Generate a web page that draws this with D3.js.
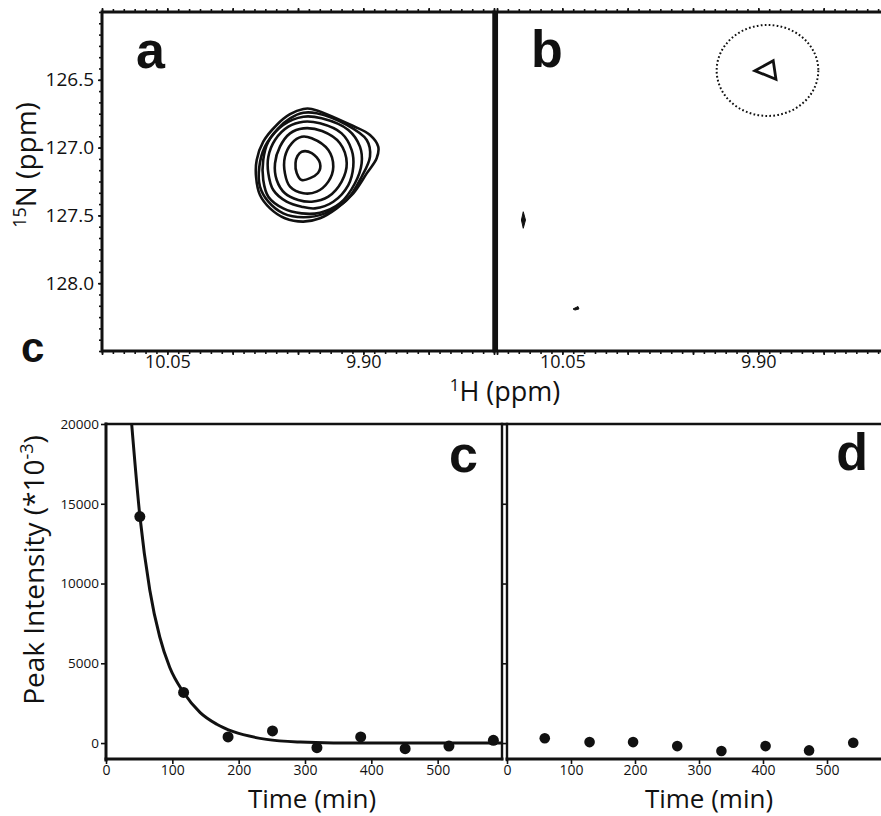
<!DOCTYPE html>
<html>
<head>
<meta charset="utf-8">
<script src="https://cdn.jsdelivr.net/npm/d3@7"></script>
<style>
  html, body { margin: 0; padding: 0; background: #fff; }
  svg { display: block; font-family: "Open Sans", "Noto Sans", sans-serif; }
</style>
</head>
<body>
<svg id="chart" width="881" height="816"></svg>
<script>
// ---------- HSQC spectra (1H ppm, 15N ppm) ----------
// Contour rings of the amide cross-peak in spectrum a, outermost first
const ring1 = [[9.9459,126.715],[9.9395,126.715],[9.9077,126.841],[9.8949,126.907],[9.8886,126.993],[9.8898,127.079],[9.8974,127.190],[9.9077,127.337],[9.9204,127.448],[9.9332,127.521],[9.9459,127.546],[9.9600,127.521],[9.9714,127.448],[9.9791,127.350],[9.9821,127.215],[9.9816,127.091],[9.9766,126.956],[9.9663,126.833],[9.9561,126.754]];
const ring2 = [[9.9459,126.743],[9.9357,126.747],[9.9127,126.833],[9.8974,126.944],[9.8949,127.067],[9.9013,127.215],[9.9127,127.386],[9.9293,127.485],[9.9459,127.514],[9.9613,127.485],[9.9727,127.399],[9.9791,127.288],[9.9796,127.141],[9.9753,126.993],[9.9651,126.858],[9.9561,126.784]];
const ring3 = [[9.9459,126.772],[9.9319,126.784],[9.9115,126.870],[9.9026,126.993],[9.9013,127.116],[9.9064,127.263],[9.9179,127.411],[9.9332,127.480],[9.9472,127.485],[9.9613,127.448],[9.9727,127.362],[9.9766,127.239],[9.9766,127.091],[9.9727,126.956],[9.9613,126.833]];
const ring4 = [[9.9459,126.809],[9.9332,126.821],[9.9166,126.895],[9.9089,127.018],[9.9077,127.141],[9.9115,127.276],[9.9230,127.399],[9.9370,127.448],[9.9472,127.436],[9.9587,127.399],[9.9689,127.313],[9.9727,127.190],[9.9727,127.067],[9.9676,126.944],[9.9574,126.846]];
const ring5 = [[9.9459,126.858],[9.9316,126.878],[9.9179,126.968],[9.9127,127.116],[9.9166,127.251],[9.9268,127.362],[9.9395,127.399],[9.9498,127.386],[9.9600,127.337],[9.9663,127.239],[9.9676,127.116],[9.9638,126.993],[9.9561,126.895]];
const ring6 = [[9.9472,126.920],[9.9395,126.931],[9.9268,127.018],[9.9230,127.141],[9.9268,127.251],[9.9357,127.325],[9.9459,127.337],[9.9561,127.288],[9.9600,127.190],[9.9600,127.067],[9.9548,126.968]];
const ring7 = [[9.9472,127.030],[9.9395,127.040],[9.9332,127.114],[9.9347,127.187],[9.9472,127.239],[9.9510,127.187],[9.9519,127.114],[9.9504,127.062]];
const peakRingsA = [ring1, ring2, ring3, ring4, ring5, ring6, ring7];

// Spectrum b: residual weak contour, two noise specks, highlighted region
const residualRingB = [[9.9026,126.433],[9.8886,126.359],[9.8865,126.496]];
const speck1 = [[10.0799,127.473],[10.0782,127.534],[10.0799,127.595],[10.0813,127.534]];
const speck2 = [[10.0418,128.190],[10.0380,128.172],[10.0373,128.190],[10.0403,128.198]];
const highlightCenter = [9.8930, 126.431];
const highlightRadius = [0.0389, 0.3355];

const hMajor = [10.10, 10.05, 10.00, 9.95, 9.90, 9.85, 9.80];
const hLabels = [10.05, 9.90];
const nLabels = [126.5, 127.0, 127.5, 128.0];

// ---------- Peak intensity decay ----------
const timeC = [51, 117, 184, 251, 318, 384, 451, 517, 584];
const intensityC = [14200, 3170, 380, 760, -290, 380, -355, -190, 170];
const fitTime = [38.7, 51, 66, 81, 96, 117, 142, 167, 192, 242, 293, 343, 420, 597];
const fitIntensity = [20000, 14250, 9600, 6650, 4750, 3170, 1910, 1180, 710, 230, 60, 10, 0, 0];
const timeD = [59, 129, 197, 266, 335, 404, 472, 541];
const intensityD = [300, 60, 60, -190, -500, -190, -460, 20];
const timeTicks = [0, 100, 200, 300, 400, 500];
const intensityTicks = [0, 5000, 10000, 15000, 20000];

const ink = "#111";
const svg = d3.select("#chart");
svg.append("rect").attr("width", 881).attr("height", 816).attr("fill", "#fff");

// ---------- scales ----------
const xA = d3.scaleLinear().domain([10.10, 9.80]).range([102, 494]);
const xB = d3.scaleLinear().domain([10.10, 9.80]).range([497, 889]);
const yN = d3.scaleLinear().domain([126.0, 128.5]).range([12, 351]);
const xC = d3.scaleLinear().domain([0, 597]).range([106, 502]);
const xD = d3.scaleLinear().domain([0, 600]).range([507, 891]);
const yI = d3.scaleLinear().domain([-1000, 20000]).range([759, 424]);

const hMinor = d3.range(0, 37).map(i => +(9.80 + i * 0.05 / 6).toFixed(5));
const nMinor = d3.range(0, 31).map(i => +(126.0 + i * 0.5 / 6).toFixed(5));

function styleAxis(g, size) {
  g.select(".domain").remove();
  g.selectAll(".tick line").attr("stroke", ink).attr("stroke-width", 1.6);
  g.selectAll(".tick text").attr("fill", ink).attr("font-size", size)
    .attr("font-family", "'Open Sans', sans-serif");
}

// ---------- spectra axes (ticks drawn outside the frame) ----------
function spectrumTicks(x, x0, x1) {
  const clip = g => g.selectAll(".tick").filter(d => x(d) < x0 - 1 || x(d) > x1 + 1).remove();
  // top edge
  svg.append("g").attr("transform", "translate(0,12)")
    .call(d3.axisTop(x).tickValues(hMinor).tickSize(3).tickFormat(""))
    .call(g => styleAxis(g, 0)).call(clip);
  svg.append("g").attr("transform", "translate(0,12)")
    .call(d3.axisTop(x).tickValues(hMajor).tickSize(4).tickFormat(""))
    .call(g => styleAxis(g, 0)).call(clip);
  // bottom edge
  svg.append("g").attr("transform", "translate(0,351)")
    .call(d3.axisBottom(x).tickValues(hMinor).tickSize(3).tickFormat(""))
    .call(g => styleAxis(g, 0)).call(clip);
  svg.append("g").attr("transform", "translate(0,351)")
    .call(d3.axisBottom(x).tickValues(hMajor).tickSize(4).tickFormat(""))
    .call(g => styleAxis(g, 0)).call(clip);
  svg.append("g").attr("transform", "translate(0,351)")
    .call(d3.axisBottom(x).tickValues(hLabels).tickSize(0).tickPadding(4).tickFormat(d3.format(".2f")))
    .call(g => styleAxis(g, 18));
}
spectrumTicks(xA, 102, 494);
spectrumTicks(xB, 497, 881);

svg.append("g").attr("transform", "translate(102,0)")
  .call(d3.axisLeft(yN).tickValues(nMinor).tickSize(3).tickFormat(""))
  .call(g => styleAxis(g, 0));
svg.append("g").attr("transform", "translate(102,0)")
  .call(d3.axisLeft(yN).tickValues(nLabels).tickSize(4).tickPadding(4).tickFormat(d3.format(".1f")))
  .call(g => styleAxis(g, 19));

// ---------- spectra frames ----------
svg.append("rect").attr("x", xA(10.10)).attr("y", yN(126.0))
  .attr("width", xA(9.80) - xA(10.10)).attr("height", yN(128.5) - yN(126.0))
  .attr("fill", "none").attr("stroke", ink).attr("stroke-width", 3);
svg.append("line").attr("x1", xB(10.10)).attr("x2", 881).attr("y1", yN(126.0)).attr("y2", yN(126.0))
  .attr("stroke", ink).attr("stroke-width", 3);
svg.append("line").attr("x1", xB(10.10)).attr("x2", 881).attr("y1", yN(128.5)).attr("y2", yN(128.5))
  .attr("stroke", ink).attr("stroke-width", 3);
svg.append("line").attr("x1", 495.3).attr("x2", 495.3).attr("y1", yN(126.0) - 1.5).attr("y2", yN(128.5) + 1.5)
  .attr("stroke", ink).attr("stroke-width", 5.5);

// ---------- contours ----------
const ringLineA = d3.line().x(d => xA(d[0])).y(d => yN(d[1])).curve(d3.curveCatmullRomClosed.alpha(0.5));
svg.append("g").selectAll("path").data(peakRingsA).join("path")
  .attr("d", ringLineA).attr("fill", "none").attr("stroke", ink)
  .attr("stroke-width", 2.6).attr("stroke-linejoin", "round");

const ringLineB = d3.line().x(d => xB(d[0])).y(d => yN(d[1])).curve(d3.curveLinearClosed);
svg.append("path").attr("d", ringLineB(residualRingB)).attr("fill", "none")
  .attr("stroke", ink).attr("stroke-width", 2.8).attr("stroke-linejoin", "miter");
svg.append("g").selectAll("path").data([speck1, speck2]).join("path")
  .attr("d", ringLineB).attr("fill", ink).attr("stroke", ink).attr("stroke-width", 1);

svg.append("ellipse")
  .attr("cx", xB(highlightCenter[0])).attr("cy", yN(highlightCenter[1]))
  .attr("rx", Math.abs(xB(highlightCenter[0] + highlightRadius[0]) - xB(highlightCenter[0])))
  .attr("ry", Math.abs(yN(highlightCenter[1] + highlightRadius[1]) - yN(highlightCenter[1])))
  .attr("fill", "none").attr("stroke", ink).attr("stroke-width", 2)
  .attr("stroke-dasharray", "1.7,2.3");

// ---------- spectra labels ----------
function panelLetter(txt, x, y, size, anchor) {
  svg.append("text").attr("x", x).attr("y", y).attr("text-anchor", anchor || "start")
    .attr("font-family", "'Liberation Sans', Arial, sans-serif").attr("font-weight", "bold")
    .attr("font-size", size).attr("fill", ink).text(txt);
}
panelLetter("a", 136, 68, 52);
panelLetter("b", 531, 67, 52);
panelLetter("c", 21, 362, 42);

const nTitle = svg.append("text").attr("transform", "translate(36,165) rotate(-90)")
  .attr("text-anchor", "middle").attr("font-size", 28).attr("fill", ink);
nTitle.append("tspan").attr("font-size", 18).attr("dy", -10).text("15");
nTitle.append("tspan").attr("dy", 10).text("N (ppm)");

const hTitle = svg.append("text").attr("x", 505).attr("y", 401)
  .attr("text-anchor", "middle").attr("font-size", 27).attr("fill", ink);
hTitle.append("tspan").attr("font-size", 17).attr("dy", -10).text("1");
hTitle.append("tspan").attr("dy", 10).text("H (ppm)");

// ---------- decay panels: axes ----------
svg.append("g").attr("transform", `translate(${xC(0)},0)`)
  .call(d3.axisLeft(yI).tickValues(intensityTicks).tickSize(5).tickPadding(2).tickFormat(d3.format("d")))
  .call(g => styleAxis(g, 13.5));
svg.append("g").attr("transform", `translate(0,${yI(-1000)})`)
  .call(d3.axisBottom(xC).tickValues(timeTicks).tickSize(5).tickPadding(1).tickFormat(d3.format("d")))
  .call(g => styleAxis(g, 14));
svg.append("g").attr("transform", `translate(${xD(0)},0)`)
  .call(d3.axisLeft(yI).tickValues(intensityTicks).tickSize(4).tickFormat(""))
  .call(g => styleAxis(g, 0));
svg.append("g").attr("transform", `translate(0,${yI(-1000)})`)
  .call(d3.axisBottom(xD).tickValues(timeTicks).tickSize(5).tickPadding(1).tickFormat(d3.format("d")))
  .call(g => styleAxis(g, 14));

// frames
const frame = svg.append("g").attr("stroke", ink).attr("fill", "none").attr("stroke-linecap", "square");
frame.append("line").attr("x1", xC(0)).attr("x2", 881).attr("y1", yI(20000)).attr("y2", yI(20000)).attr("stroke-width", 2.6);
frame.append("line").attr("x1", xC(0)).attr("x2", xC(0)).attr("y1", yI(20000)).attr("y2", yI(-1000) + 1).attr("stroke-width", 3);
frame.append("line").attr("x1", xC(0)).attr("x2", xC(597)).attr("y1", yI(-1000)).attr("y2", yI(-1000)).attr("stroke-width", 3);
frame.append("line").attr("x1", xC(597)).attr("x2", xC(597)).attr("y1", yI(20000)).attr("y2", yI(-1000)).attr("stroke-width", 2.4);
frame.append("line").attr("x1", xD(0)).attr("x2", xD(0)).attr("y1", yI(20000)).attr("y2", yI(-1000) + 1).attr("stroke-width", 2.4);
frame.append("line").attr("x1", xD(0)).attr("x2", 881).attr("y1", yI(-1000)).attr("y2", yI(-1000)).attr("stroke-width", 3);

// ---------- decay data ----------
const fitLine = d3.line().x(d => xC(d[0])).y(d => yI(d[1])).curve(d3.curveMonotoneX);
svg.append("path").attr("d", fitLine(d3.zip(fitTime, fitIntensity)))
  .attr("fill", "none").attr("stroke", ink).attr("stroke-width", 3);

svg.append("g").selectAll("circle").data(d3.zip(timeC, intensityC)).join("circle")
  .attr("cx", d => xC(d[0])).attr("cy", d => yI(d[1])).attr("r", 5.5).attr("fill", ink);
svg.append("g").selectAll("circle").data(d3.zip(timeD, intensityD)).join("circle")
  .attr("cx", d => xD(d[0])).attr("cy", d => yI(d[1])).attr("r", 5.3).attr("fill", ink);

// ---------- decay labels ----------
panelLetter("c", 449, 472, 52);
panelLetter("d", 868, 470, 52, "end");

svg.append("text").attr("x", 312).attr("y", 808).attr("text-anchor", "middle")
  .attr("font-size", 26).attr("fill", ink).text("Time (min)");
svg.append("text").attr("x", 709).attr("y", 808).attr("text-anchor", "middle")
  .attr("font-size", 26).attr("fill", ink).text("Time (min)");

const iTitle = svg.append("text").attr("transform", "translate(44,570) rotate(-90)")
  .attr("text-anchor", "middle").attr("font-size", 28).attr("fill", ink);
iTitle.append("tspan").text("Peak Intensity (*10");
iTitle.append("tspan").attr("font-size", 18).attr("dy", -11).text("-3");
iTitle.append("tspan").attr("dy", 11).text(")");
</script>
</body>
</html>
